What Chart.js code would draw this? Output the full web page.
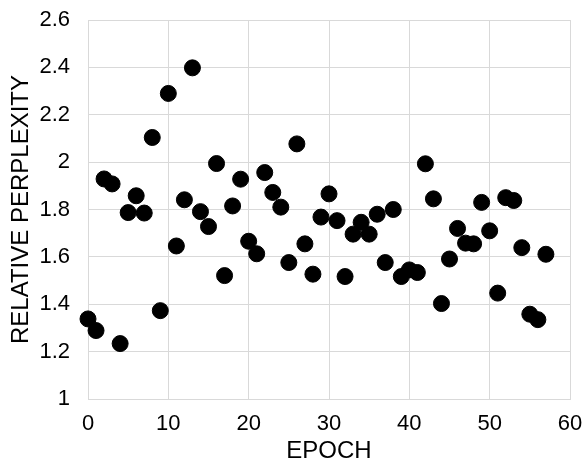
<!DOCTYPE html>
<html>
<head>
<meta charset="utf-8">
<script src="https://cdn.jsdelivr.net/npm/chart.js@4"></script>
<style>
	html, body { margin: 0; padding: 0; background: #fff; }
	#wrap { width: 588px; height: 471px; }
</style>
</head>
<body>
<div id="wrap"><canvas id="chart"></canvas></div>
<script>
// epoch on x, relative perplexity on y
const epochs = [0, 1, 2, 3, 4, 5, 6, 7, 8, 9, 10, 11, 12, 13, 14, 15, 16, 17, 18, 19,
	20, 21, 22, 23, 24, 25, 26, 27, 28, 29, 30, 31, 32, 33, 34, 35, 36, 37, 38, 39,
	40, 41, 42, 43, 44, 45, 46, 47, 48, 49, 50, 51, 52, 53, 54, 55, 56, 57];
const perplexity = [1.338, 1.289, 1.929, 1.908, 1.234, 1.787, 1.858, 1.785, 2.104, 1.373,
	2.29, 1.646, 1.841, 2.398, 1.791, 1.728, 1.994, 1.521, 1.815, 1.928,
	1.666, 1.613, 1.956, 1.872, 1.81, 1.576, 2.077, 1.655, 1.527, 1.768,
	1.866, 1.753, 1.517, 1.696, 1.746, 1.696, 1.78, 1.576, 1.80, 1.517,
	1.545, 1.534, 1.993, 1.845, 1.403, 1.591, 1.72, 1.658, 1.655, 1.83,
	1.71, 1.447, 1.85, 1.838, 1.639, 1.358, 1.335, 1.611];
const xTicks = [0, 10, 20, 30, 40, 50, 60];
const yTicks = [1, 1.2, 1.4, 1.6, 1.8, 2, 2.2, 2.4, 2.6];

const points = epochs.map(function (e, i) {
	return { x: e, y: perplexity[i] };
});

const font = 'Liberation Sans, Arial, Helvetica, sans-serif';
const gridColor = '#d9d9d9';

new Chart(document.getElementById('chart'), {
	type: 'scatter',
	data: {
		datasets: [{
			data: points,
			backgroundColor: '#000',
			borderColor: '#000',
			pointRadius: 8,
			pointHoverRadius: 8,
			clip: false
		}]
	},
	options: {
		responsive: true,
		maintainAspectRatio: false,
		animation: false,
		layout: { padding: { top: 20, right: 18, left: 0, bottom: 0 } },
		plugins: {
			legend: { display: false },
			tooltip: { enabled: false }
		},
		scales: {
			x: {
				type: 'linear',
				min: 0,
				max: 60,
				afterBuildTicks: function (axis) {
					axis.ticks = xTicks.map(function (v) { return { value: v }; });
				},
				afterFit: function (axis) {
					axis.height = 72;
					axis.paddingLeft = 0;
					axis.paddingRight = 0;
				},
				grid: { color: gridColor, drawTicks: false },
				border: { color: gridColor },
				ticks: {
					color: '#000',
					padding: 12,
					font: { family: font, size: 22 }
				},
				title: {
					display: true,
					text: 'EPOCH',
					color: '#000',
					padding: { top: 0, bottom: 5 },
					font: { family: font, size: 24 }
				}
			},
			y: {
				type: 'linear',
				min: 1,
				max: 2.6,
				afterBuildTicks: function (axis) {
					axis.ticks = yTicks.map(function (v) { return { value: v }; });
				},
				afterFit: function (axis) {
					axis.width = 88;
					axis.paddingTop = 0;
					axis.paddingBottom = 0;
				},
				grid: { color: gridColor, drawTicks: false },
				border: { color: gridColor },
				ticks: {
					color: '#000',
					padding: 18,
					font: { family: font, size: 22 },
					callback: function (v) { return String(Math.round(v * 10) / 10); }
				},
				title: {
					display: true,
					text: 'RELATIVE PERPLEXITY',
					color: '#000',
					padding: { top: 7, bottom: 0 },
					font: { family: font, size: 24 }
				}
			}
		}
	}
});
</script>
</body>
</html>
